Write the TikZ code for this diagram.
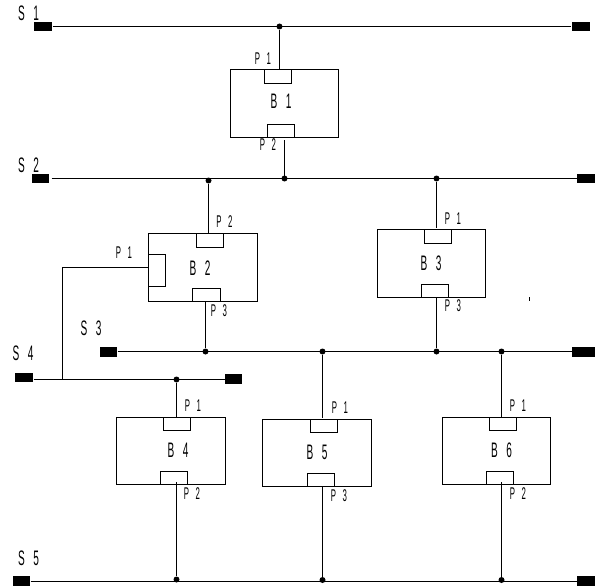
\documentclass[tikz,border=0pt]{standalone}
\usepackage{fontspec}
\setsansfont{Liberation Sans}[WordSpace=3]
\usepackage{tikz}

\begin{document}
\begin{tikzpicture}[
    x=1pt,
    y=-1pt,
    line width=1pt,
    block/.style={
        rectangle,
        draw,
        minimum width=108pt,
        minimum height=68pt,
        inner sep=0pt
    },
    lowblock/.style={
        block,
        minimum width=109pt,
        minimum height=67pt
    },
    port/.style={
        rectangle,
        draw,
        minimum width=27pt,
        minimum height=13pt,
        inner sep=0pt
    },
    tallport/.style={
        port,
        minimum height=14pt
    },
    sideport/.style={
        port,
        minimum width=17pt,
        minimum height=32pt
    },
    pad/.style={
        rectangle,
        fill=black,
        minimum width=18pt,
        minimum height=9pt,
        inner sep=0pt
    },
    joint/.style={
        circle,
        fill=black,
        minimum size=6pt,
        inner sep=0pt
    },
    buslabel/.style={
        font=\fontsize{21}{21}\sffamily,
        inner sep=0pt,
        xscale=.48,
        transform shape
    },
    portlabel/.style={
        font=\fontsize{17}{17}\sffamily,
        inner sep=0pt,
        xscale=.46,
        transform shape
    }
]
\useasboundingbox (0,0) rectangle (595,586);

% buses
\node[pad] (s1l) at (43,26.5) {};
\node[pad] (s1r) at (580.5,26.5) {};
\node[pad, minimum width=17pt] (s2l) at (40.5,178.5) {};
\node[pad] (s2r) at (586,178.5) {};
\node[pad, minimum width=17pt, minimum height=10pt] (s3l) at (108.5,352) {};
\node[pad, minimum width=23pt, minimum height=10pt] (s3r) at (583.5,352) {};
\node[pad] (s4l) at (24,377.5) {};
\node[pad, minimum width=17pt, minimum height=10pt] (s4r) at (233.5,379) {};
\node[pad, minimum width=17pt, minimum height=10pt] (s5l) at (21.5,581) {};
\node[pad, minimum height=10pt] (s5r) at (586,581) {};

\node[buslabel] (s1name) at (28.5,13.5) {S 1};
\node[buslabel] (s2name) at (28.5,165.5) {S 2};
\node[buslabel] (s3name) at (91,328.5) {S 3};
\node[buslabel] (s4name) at (23,353) {S 4};
\node[buslabel] (s5name) at (28.5,558.5) {S 5};

% blocks
\node[block] (b1) at (284.5,103.5) {};
\node[block, minimum width=109pt] (b2) at (203,267.5) {};
\node[block] (b3) at (431.5,263.5) {};
\node[lowblock] (b4) at (171,451) {};
\node[lowblock] (b5) at (317,453) {};
\node[lowblock, minimum width=108pt] (b6) at (496.5,451) {};

\node[buslabel] (b1name) at (281,101.5) {B 1};
\node[buslabel] (b2name) at (200,268.5) {B 2};
\node[buslabel] (b3name) at (431,263) {B 3};
\node[buslabel] (b4name) at (178,450.5) {B 4};
\node[buslabel] (b5name) at (317,452.5) {B 5};
\node[buslabel] (b6name) at (501.5,450.5) {B 6};

% ports
\node[tallport] (b1p1) at (278,76.5) {};
\node[port] (b1p2) at (281,131) {};
\node[tallport] (b2p2) at (210,240.5) {};
\node[sideport] (b2p1) at (157,270.5) {};
\node[port, minimum width=28pt] (b2p3) at (206.5,295) {};
\node[tallport] (b3p1) at (438,236.5) {};
\node[port] (b3p3) at (435,291) {};
\node[port] (b4p1) at (177,424) {};
\node[port] (b4p2) at (174,478) {};
\node[port] (b5p1) at (324,426) {};
\node[port] (b5p3) at (321,480) {};
\node[port] (b6p1) at (503,424) {};
\node[port] (b6p2) at (500,478) {};

\node[portlabel] (b1p1name) at (263,59) {P 1};
\node[portlabel] (b1p2name) at (268,145) {P 2};
\node[portlabel] (b2p2name) at (224.5,221.5) {P 2};
\node[portlabel] (b2p1name) at (124,252.5) {P 1};
\node[portlabel] (b2p3name) at (219,311) {P 3};
\node[portlabel] (b3p1name) at (453,219) {P 1};
\node[portlabel] (b3p3name) at (453,306) {P 3};
\node[portlabel] (b4p1name) at (193,406) {P 1};
\node[portlabel] (b4p2name) at (192,494) {P 2};
\node[portlabel] (b5p1name) at (340,408) {P 1};
\node[portlabel] (b5p3name) at (339,496) {P 3};
\node[portlabel] (b6p1name) at (518,406) {P 1};
\node[portlabel] (b6p2name) at (518,494) {P 2};

% joints
\node[joint] (j1) at (279.5,26.5) {};
\node[joint] (j2) at (208.5,180.5) {};
\node[joint] (j3) at (284.5,178.5) {};
\node[joint] (j4) at (436.5,178.5) {};
\node[joint] (j5) at (205.5,351.5) {};
\node[joint] (j6) at (322.5,351.5) {};
\node[joint] (j7) at (436.5,351.5) {};
\node[joint] (j8) at (501.5,351.5) {};
\node[joint] (j9) at (176.5,379.5) {};
\node[joint] (j10) at (176.5,579.5) {};
\node[joint] (j11) at (322.5,580) {};
\node[joint] (j12) at (501.5,580) {};

\coordinate (b1out) at (284.5,140);
\coordinate (b3in) at (436.5,228);
\coordinate (b4out) at (176.5,482);
\coordinate (b6out) at (501.5,482);
\coordinate (b5in) at (322.5,418);
\coordinate (tap) at (62.5,379.5);
\coordinate (specktop) at (529.5,297);
\coordinate (speckend) at (529.5,301);

\draw (s1l) -- (s1r);
\draw[shorten <=2pt] (s2l.east) -- (s2r.west);
\draw (s3l.east |- 0,351.5) -- (s3r.west |- 0,351.5);
\draw (s4l.east |- tap) -- (s4r.west |- tap);
\draw (s5l.east |- 0,581.5) -- (s5r.west |- 0,581.5);

\draw (j1) -- (j1 |- b1.north);
\draw (b1out) -- (b1out |- j3);
\draw (j2) -- (j2 |- b2.north);
\draw (j5 |- b2.south) -- (j5);
\draw (b2.west) -- (tap |- b2.west) -- (tap);
\draw (j4) -- (b3in);
\draw (b3in |- b3.south) -- (j7);
\draw (j9) -- (j9 |- b4.north);
\draw (b4out) -- (j10);
\draw (j6) -- (b5in);
\draw (b5in |- b5.south) -- (j11);
\draw (j8) -- (j8 |- b6.north);
\draw (b6out) -- (j12);
\draw[line width=.8pt] (specktop) -- (speckend);

\end{tikzpicture}
\end{document}
